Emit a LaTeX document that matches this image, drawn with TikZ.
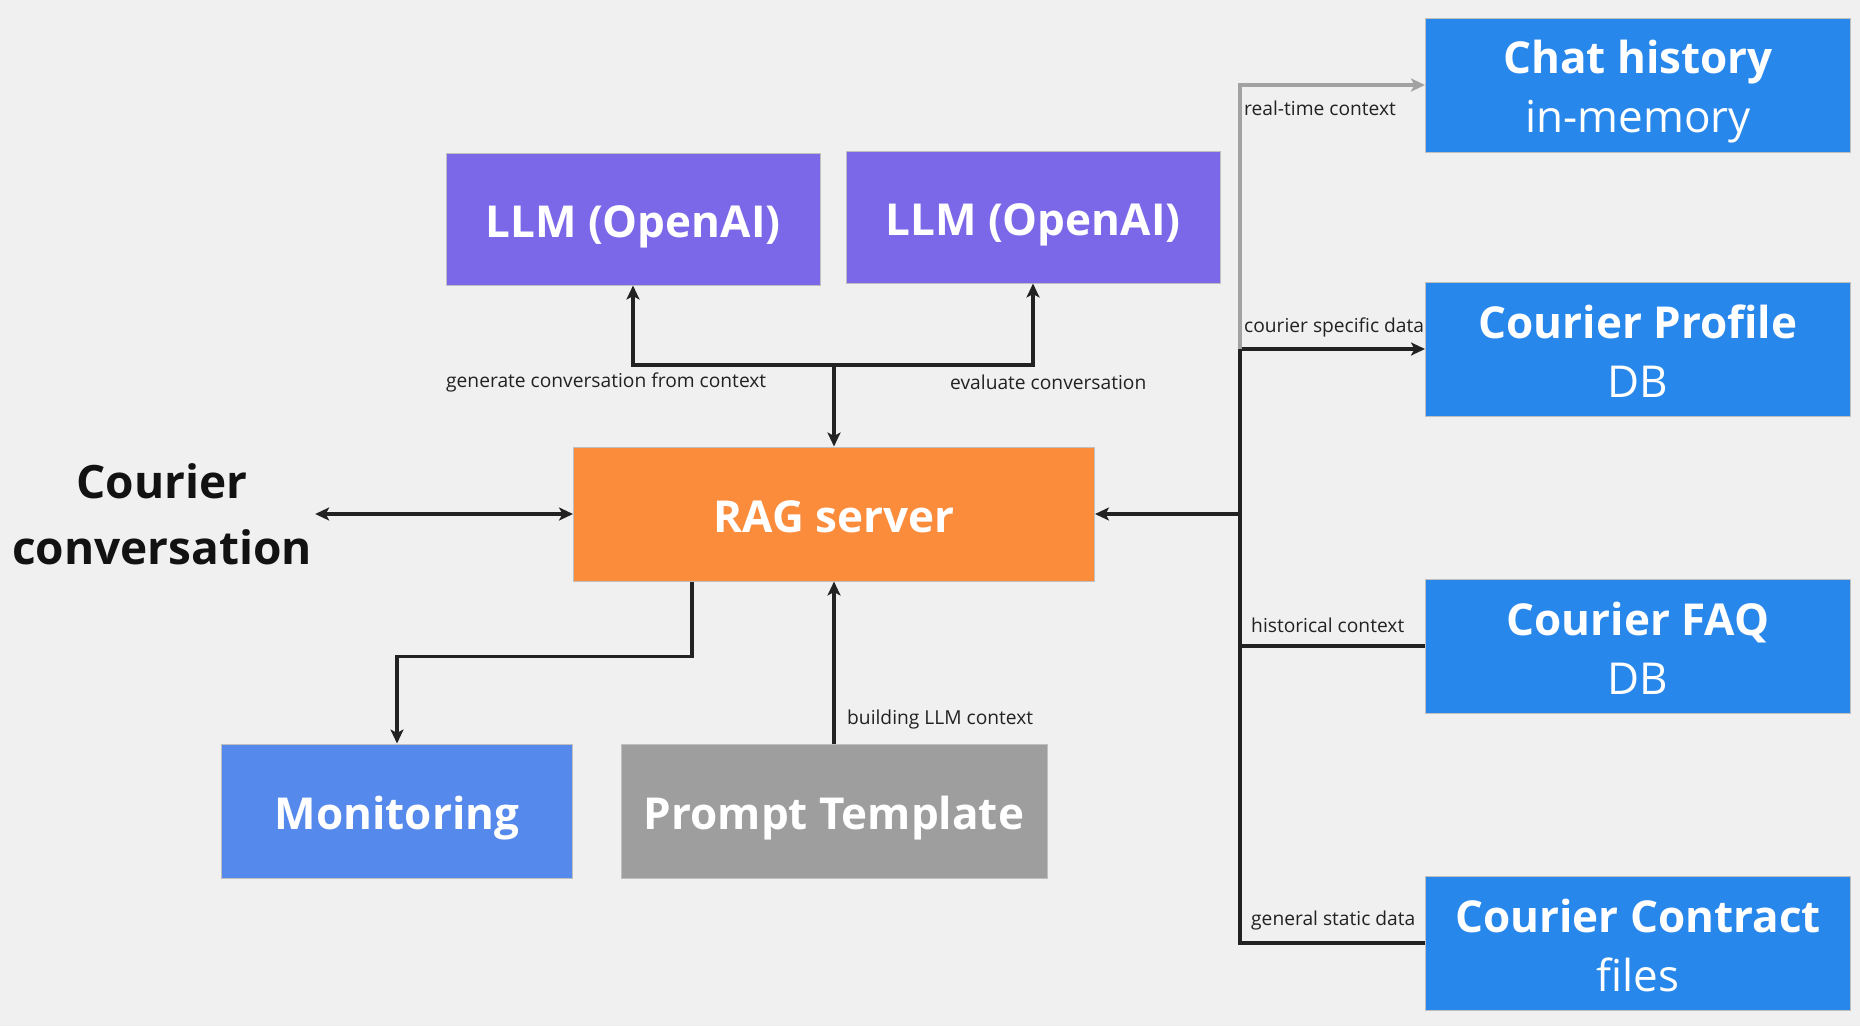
\documentclass[tikz,border=0pt]{standalone}
\usepackage{fontspec}
\setmainfont{Open Sans}
\usetikzlibrary{arrows.meta}

\definecolor{bgc}{HTML}{F0F0F0}
\definecolor{llmc}{HTML}{7B68E8}
\definecolor{ragc}{HTML}{FB8C3C}
\definecolor{monc}{HTML}{5589EC}
\definecolor{ptc}{HTML}{9E9E9E}
\definecolor{storec}{HTML}{2887EB}
\definecolor{linec}{HTML}{222222}
\definecolor{greyline}{HTML}{A2A2A2}
\newcommand\boxstrut{\rule[-10pt]{0pt}{57pt}}

\begin{document}
\begin{tikzpicture}[x=1pt, y=-1pt,
  >={Stealth[length=14pt,width=13pt,inset=3.5pt]},
  box/.style={draw=black!25, line width=1pt, inner sep=0pt, text=white, align=center,
    font=\fontsize{44}{59}\selectfont\bfseries,
    execute at begin node=\boxstrut, execute at end node=\boxstrut},
  llm/.style={box, fill=llmc, minimum width=374pt, minimum height=132pt},
  store/.style={box, fill=storec, minimum width=425pt, minimum height=134pt},
  flow/.style={draw=linec, line width=3.5pt},
  lbl/.style={anchor=west, inner sep=0pt, text=linec, font=\fontsize{19.2}{22}\selectfont}]
\fill[bgc] (0,0) rectangle (1860,1026);
% boxes
\node[llm] (LLMa) at (633,219) {LLM (OpenAI)};
\node[llm] (LLMb) at (1033,217) {LLM (OpenAI)};
\node[box, fill=ragc, minimum width=521pt, minimum height=134pt] (RAG) at (834,514) {RAG server};
\node[box, fill=monc, minimum width=351pt, minimum height=134pt] (MON) at (397,811) {Monitoring};
\node[box, fill=ptc, minimum width=426pt, minimum height=134pt] (PT) at (834,811) {Prompt Template};
\node[store] (CH) at (1638,85) {\boxstrut Chat history\\{\mdseries in-memory}};
\node[store] (CP) at (1638,349) {\boxstrut Courier Profile\\{\mdseries DB}};
\node[store] (FAQ) at (1638,646) {\boxstrut Courier FAQ\\{\mdseries DB}};
\node[store] (CC) at (1638,943) {\boxstrut Courier Contract\\{\mdseries files}};
\node[align=center, inner sep=3pt, text=black!93, font=\fontsize{46}{66}\selectfont\bfseries]
  (CONV) at (162,514) {Courier\\conversation};
% junctions
\coordinate (split) at (834,365);
\coordinate (bus) at (1240,514);
% connectors
\draw[flow,<->] (CONV.east) -- (RAG.west);
\draw[flow,->] (split) -- (RAG.north);
\draw[flow,->] (split) -| (LLMa.south);
\draw[flow,->] (split) -| (LLMb.south);
\draw[flow,->] ([xshift=-142pt]RAG.south) -- ++(0,75) -| (MON.north);
\draw[flow,->] (PT.north) -- (RAG.south);
\draw[flow,->] (bus) -- (RAG.east);
\draw[flow] (bus |- CP.west) -- (bus |- CC.west) -- (CC.west);
\draw[flow] (bus |- FAQ.west) -- (FAQ.west);
\draw[flow,->] (bus |- CP.west) -- (CP.west);
\draw[flow,draw=greyline,->] (bus |- CP.west) |- (CH.west);
% labels
\node[lbl] (Lgen) at (446,382) {generate conversation from context};
\node[lbl] (Leval) at (950,382) {evaluate conversation};
\node[lbl] (Lbuild) at (847,719) {building LLM context};
\node[lbl] (Lreal) at (1244,108) {real-time context};
\node[lbl] (Lspec) at (1244,327) {courier specific data};
\node[lbl] (Lhist) at (1251,625) {historical context};
\node[lbl] (Lgen2) at (1251,920) {general static data};
\end{tikzpicture}
\end{document}
